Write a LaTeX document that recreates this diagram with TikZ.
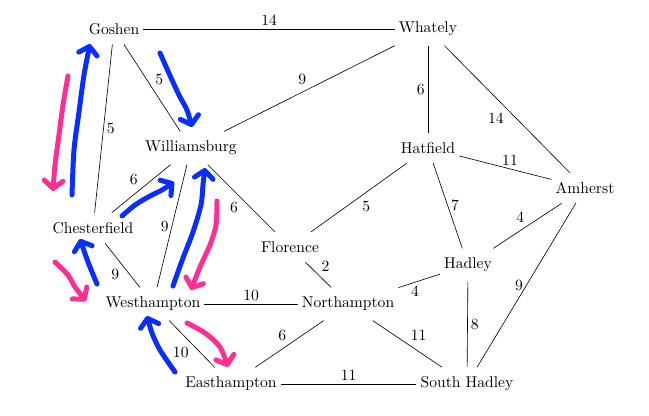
\documentclass[tikz,border=0pt]{standalone}
\usetikzlibrary{arrows.meta}
\definecolor{penblue}{RGB}{10,46,255}
\definecolor{penpink}{RGB}{255,46,147}

\begin{document}
\begin{tikzpicture}[x=0.641pt, y=-0.641pt,
    town/.style={inner xsep=2.5pt, inner ysep=6pt},
    wlab/.style={inner sep=2pt},
    stroke/.style={line width=3.2pt, line cap=round, line join=round,
      -{Straight Barb[length=5pt,width=12pt,round]}},
    bluestroke/.style={stroke, penblue},
    pinkstroke/.style={stroke, penpink}]
    \useasboundingbox (0,0) rectangle (649,416);

    \node[town] (goshen) at (114,29) {Goshen};
    \node[town] (whately) at (428,29) {Whately};
    \node[town] (williamsburg) at (191,148) {Williamsburg};
    \node[town] (hatfield) at (428,148) {Hatfield};
    \node[town] (amherst) at (585,188) {Amherst};
    \node[town] (chesterfield) at (93,228) {Chesterfield};
    \node[town] (florence) at (290,247) {Florence};
    \node[town] (hadley) at (468,265) {Hadley};
    \node[town] (westhampton) at (153,304) {Westhampton};
    \node[town] (northampton) at (348,304) {Northampton};
    \node[town] (easthampton) at (231,384) {Easthampton};
    \node[town] (southhadley) at (467,384) {South Hadley};

    \draw (goshen) -- node[wlab,above] {14} (whately);
    \draw (goshen) -- node[wlab,above right] {5} (williamsburg);
    \draw (goshen) -- node[wlab,right] {5} (chesterfield);
    \draw (whately) -- node[wlab,above left] {9} (williamsburg);
    \draw (whately) -- node[wlab,left] {6} (hatfield);
    \draw (whately) -- node[wlab,below left] {14} (amherst);
    \draw (hatfield) -- node[wlab,above,pos=.55] {11} (amherst);
    \draw (hatfield) -- node[wlab,below right] {5} (florence);
    \draw (hatfield) -- node[wlab,right] {7} (hadley);
    \draw (amherst) -- node[wlab,above left] {4} (hadley);
    \draw (amherst) -- node[wlab,left] {9} (southhadley);
    \draw (williamsburg) -- node[wlab,above left] {6} (chesterfield);
    \draw (williamsburg) -- node[wlab,left] {9} (westhampton);
    \draw (williamsburg) -- node[wlab,below left] {6} (florence);
    \draw (chesterfield) -- node[wlab,below left] {9} (westhampton);
    \draw (florence) -- node[wlab,above right] {2} (northampton);
    \draw (westhampton) -- node[wlab,above] {10} (northampton);
    \draw (westhampton) -- node[wlab,below left] {10} (easthampton);
    \draw (hadley) -- node[wlab,below,pos=.6] {4} (northampton);
    \draw (hadley) -- node[wlab,right] {8} (southhadley);
    \draw (northampton) -- node[wlab,above left] {6} (easthampton);
    \draw (northampton) -- node[wlab,above right] {11} (southhadley);
    \draw (easthampton) -- node[wlab,above] {11} (southhadley);

    \draw[bluestroke] plot[smooth] coordinates {(72,195) (74,150) (79,112) (84,75) (90,44)};
    \draw[bluestroke] plot[smooth] coordinates {(160,53) (172,80) (180,97) (187,110) (192,127)};
    \draw[bluestroke] plot[smooth] coordinates {(122,216) (135,205) (150,196) (162,190) (174,182)};
    \draw[bluestroke] plot[smooth] coordinates {(173,286) (183,258) (193,232) (201,205) (203,185) (205,168)};
    \draw[bluestroke] plot[smooth] coordinates {(97,284) (88,262) (80,239)};
    \draw[bluestroke] plot[smooth] coordinates {(175,372) (160,350) (152,333) (147,316)};

    \draw[pinkstroke] plot[smooth] coordinates {(68,76) (63,105) (59,135) (55,165) (53,191)};
    \draw[pinkstroke] plot[smooth] coordinates {(217,201) (216,225) (210,245) (200,267) (191,290)};
    \draw[pinkstroke] plot[smooth] coordinates {(55,262) (68,275) (75,287) (86,301)};
    \draw[pinkstroke] plot[smooth] coordinates {(187,323) (205,333) (220,347) (228,367)};
\end{tikzpicture}
\end{document}
